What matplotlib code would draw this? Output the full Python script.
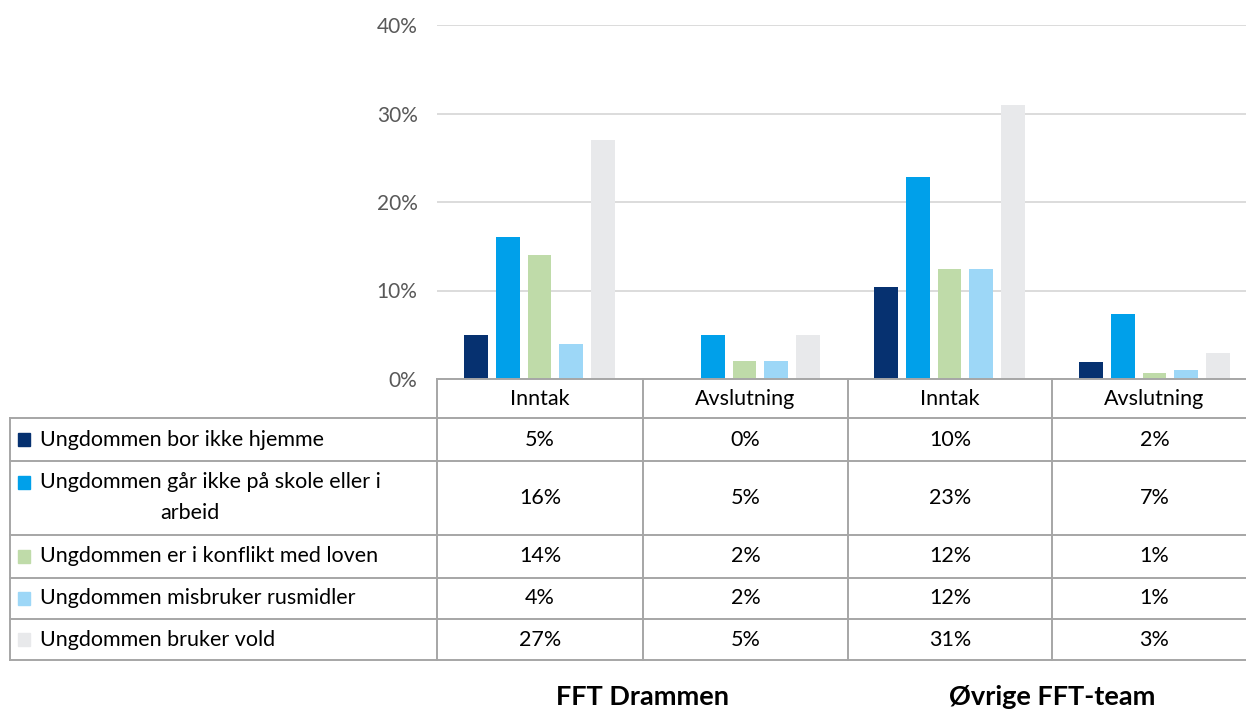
import numpy as np
import matplotlib.pyplot as plt

plt.rcParams['font.family'] = ['Lato', 'DejaVu Sans']

# data
phases = ['Inntak', 'Avslutning', 'Inntak', 'Avslutning']
groups = ['FFT Drammen', 'Øvrige FFT-team']
series = ['Ungdommen bor ikke hjemme',
          'Ungdommen går ikke på skole eller i\narbeid',
          'Ungdommen er i konflikt med loven',
          'Ungdommen misbruker rusmidler',
          'Ungdommen bruker vold']
bor_ikke_hjemme = [5, 0, 10.4, 1.9]
ikke_skole = [16, 5, 22.8, 7.4]
konflikt = [14, 2, 12.4, 0.7]
rusmidler = [4, 2, 12.4, 1.0]
vold = [27, 5, 31, 2.9]
values = [bor_ikke_hjemme, ikke_skole, konflikt, rusmidler, vold]
colors = ['#063170', '#00a0ea', '#bfdba9', '#9dd7f7', '#e8e9eb']

W, H = 1246, 711
fig = plt.figure(figsize=(W / 100, H / 100), dpi=100)

# chart area in pixels
left, right, top, bottom = 437, 1257, 25, 379
ax = fig.add_axes([left / W, 1 - bottom / H, (right - left) / W, (bottom - top) / H])
x = np.arange(len(phases))
step, bw = 0.154, 0.117
for i, (vals, c) in enumerate(zip(values, colors)):
    ax.bar(x + (i - 2) * step, vals, width=bw, color=c, zorder=3)
ax.set_xlim(-0.5, 3.5)
ax.set_ylim(0, 40)
ax.set_yticks([0, 10, 20, 30, 40])
ax.set_yticklabels([f'{t}%' for t in [0, 10, 20, 30, 40]], fontsize=15, color='#595959')
ax.tick_params(axis='y', length=0, pad=14)
ax.set_xticks([])
ax.grid(axis='y', color='#d9d9d9', lw=1.3, zorder=0)
for s in ax.spines.values():
    s.set_visible(False)

# data table drawn on an overlay in pixel coordinates
ov = fig.add_axes([0, 0, 1, 1])
ov.set_xlim(0, W)
ov.set_ylim(H, 0)
ov.axis('off')
lc, lw = '#a6a6a6', 1.4
col_edges = [437, 643, 848, 1052, 1257]
row_edges = [418, 461, 535, 578, 619, 660]
# header
ov.plot([437, W], [379, 379], color=lc, lw=lw)
for xe in col_edges[:-1]:
    ov.plot([xe, xe], [379, 660], color=lc, lw=lw)
ov.plot([10, 10], [418, 660], color=lc, lw=lw)
for ye in row_edges:
    ov.plot([10, W], [ye, ye], color=lc, lw=lw)
fs = 15.5
for j, ph in enumerate(phases):
    cx = (col_edges[j] + col_edges[j + 1]) / 2
    ov.text(cx, 399, ph, ha='center', va='center', fontsize=fs)
for i, (name, vals, c) in enumerate(zip(series, values, colors)):
    cy = (row_edges[i] + row_edges[i + 1]) / 2
    for j, v in enumerate(vals):
        cx = (col_edges[j] + col_edges[j + 1]) / 2
        ov.text(cx, cy, f'{v:.0f}%', ha='center', va='center', fontsize=fs)
    lines = name.split('\n')
    ty = cy if len(lines) == 1 else cy - 16
    ov.add_patch(plt.Rectangle((18, ty - 6.5), 12, 13, color=c))
    ov.text(40, ty, lines[0], ha='left', va='center', fontsize=fs)
    if len(lines) > 1:
        ov.text(190, cy + 15, lines[1], ha='center', va='center', fontsize=fs)

for g, cx in zip(groups, [642, 1052]):
    ov.text(cx, 697, g, ha='center', va='center', fontsize=19.5, fontweight='bold')

fig.savefig('out.png', dpi=100)
